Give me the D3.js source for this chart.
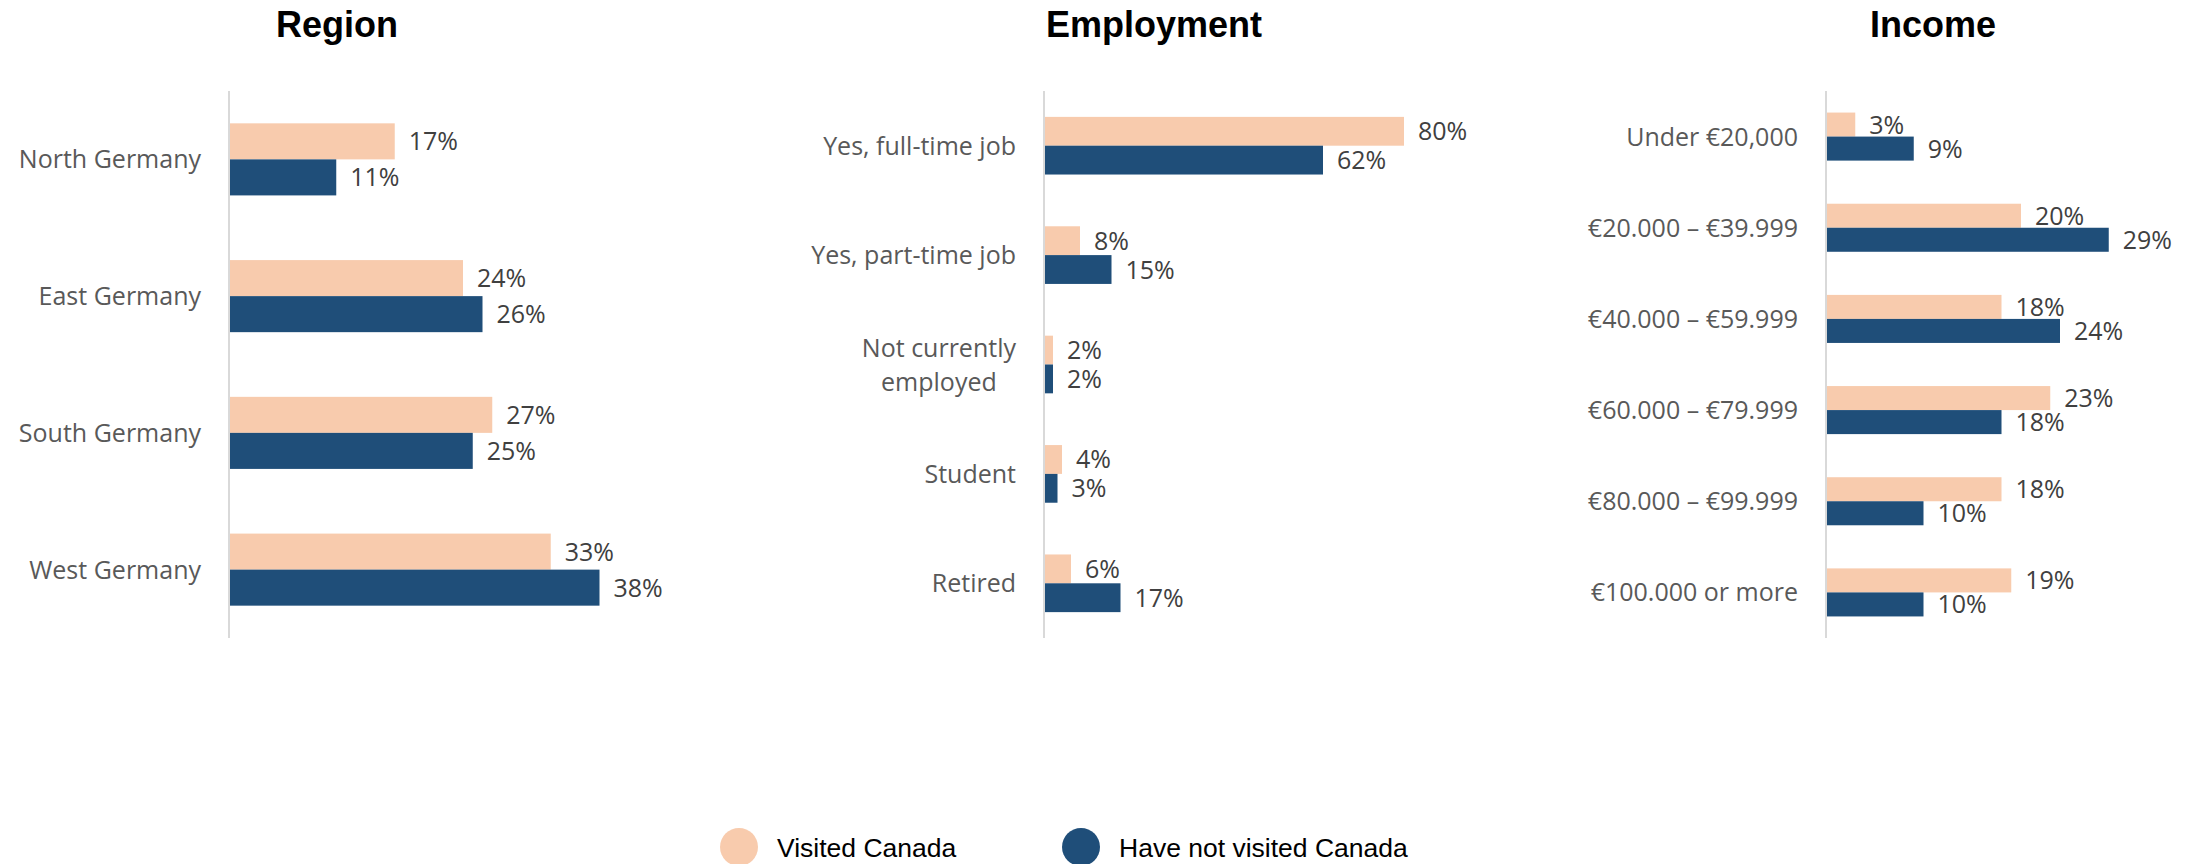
<!DOCTYPE html>
<html>
<head>
<meta charset="utf-8">
<script src="https://cdn.jsdelivr.net/npm/d3@7"></script>
<style>
  body { margin: 0; background: #fff; }
</style>
</head>
<body>
<div id="chart"></div>
<script>
// data
var seriesNames = ["Visited Canada", "Have not visited Canada"]
var seriesColors = ["#F8CBAD", "#1F4E79"]

var regionCats = ["North Germany", "East Germany", "South Germany", "West Germany"]
var regionVisited = [17, 24, 27, 33]
var regionNotVisited = [11, 26, 25, 38]

var employmentCats = ["Yes, full-time job", "Yes, part-time job", "Not currently\nemployed", "Student", "Retired"]
var employmentVisited = [80, 8, 2, 4, 6]
var employmentNotVisited = [62, 15, 2, 3, 17]

var incomeCats = ["Under €20,000", "€20.000 – €39.999", "€40.000 – €59.999", "€60.000 – €79.999", "€80.000 – €99.999", "€100.000 or more"]
var incomeVisited = [3, 20, 18, 23, 18, 19]
var incomeNotVisited = [9, 29, 24, 18, 10, 10]

var width = 2203
var height = 864
var plotTop = 91
var plotBottom = 638

var svg = d3.select("#chart")
  .append("svg")
    .attr("width", width)
    .attr("height", height)

var drawPanel = function(title, titleX, axisX, pxPer100, cats, visited, notVisited)
{
    var rows = cats.map(function(c, i) {
        return {cat: c, values: [visited[i], notVisited[i]]}
    })

    var x = d3.scaleLinear()
      .domain([0, 100])
      .range([axisX, axisX + pxPer100])

    var y = d3.scaleBand()
      .domain(cats)
      .range([plotTop, plotBottom])
      .paddingInner(0.473)
      .paddingOuter(0.2365)

    var ySub = d3.scaleBand()
      .domain([0, 1])
      .range([0, y.bandwidth()])

    svg.append("text")
      .attr("x", titleX)
      .attr("y", 37)
      .attr("text-anchor", "middle")
      .style("font-family", "Liberation Sans, Arial, sans-serif")
      .style("font-weight", "bold")
      .style("font-size", "36px")
      .style("fill", "#000")
      .text(title)

    var g = svg.append("g")

    var groups = g.selectAll(".grp")
      .data(rows)
      .enter()
      .append("g")
      .attr("transform", function(d) { return "translate(0," + y(d.cat) + ")" })

    groups.selectAll("rect")
      .data(function(d) { return d.values })
      .enter()
      .append("rect")
      .attr("x", x(0))
      .attr("y", function(v, i) { return ySub(i) })
      .attr("width", function(v) { return x(v) - x(0) })
      .attr("height", ySub.bandwidth())
      .style("fill", function(v, i) { return seriesColors[i] })

    groups.selectAll(".val")
      .data(function(d) { return d.values })
      .enter()
      .append("text")
      .attr("class", "val")
      .attr("x", function(v) { return x(v) + 14 })
      .attr("y", function(v, i) { return ySub(i) + ySub.bandwidth() / 2 })
      .attr("dy", "0.36em")
      .style("font-family", "Open Sans, sans-serif")
      .style("font-size", "25px")
      .style("fill", "#404040")
      .text(function(v) { return v + "%" })

    // category labels, may wrap on two lines
    rows.forEach(function(d) {
        var lines = d.cat.split("\n")
        var cy = y(d.cat) + y.bandwidth() / 2
        var t = g.append("text")
          .style("font-family", "Open Sans, sans-serif")
          .style("font-size", "25px")
          .style("fill", "#595959")
          .attr("text-anchor", "end")
        lines.forEach(function(line, k) {
            t.append("tspan")
              .attr("x", axisX - 28)
              .attr("y", cy + (k - (lines.length - 1) / 2) * 34)
              .attr("dy", "0.36em")
              .text(line)
        })
        if (lines.length > 1)
        {
            var maxW = 0
            t.selectAll("tspan").each(function() {
                maxW = Math.max(maxW, this.getComputedTextLength())
            })
            t.attr("text-anchor", "middle")
            t.selectAll("tspan").attr("x", axisX - 28 - maxW / 2)
        }
    })

    // vertical axis line
    g.append("line")
      .attr("x1", axisX)
      .attr("x2", axisX)
      .attr("y1", plotTop)
      .attr("y2", plotBottom)
      .style("stroke", "#d9d9d9")
      .style("stroke-width", 2)
}

drawPanel("Region", 337, 229, 975, regionCats, regionVisited, regionNotVisited)
drawPanel("Employment", 1154, 1044, 450, employmentCats, employmentVisited, employmentNotVisited)
drawPanel("Income", 1933, 1826, 975, incomeCats, incomeVisited, incomeNotVisited)

// legend
var legendX = [739, 1081]
var legend = svg.selectAll(".legend")
  .data(seriesNames)
  .enter()
  .append("g")
  .attr("transform", function(d, i) { return "translate(" + legendX[i] + ",847)" })

legend.append("circle")
  .attr("r", 19)
  .style("fill", function(d, i) { return seriesColors[i] })

legend.append("text")
  .attr("x", 38)
  .attr("y", 10)
  .style("font-family", "Liberation Sans, Arial, sans-serif")
  .style("font-size", "26.5px")
  .style("fill", "#000")
  .text(function(d) { return d })
</script>
</body>
</html>
